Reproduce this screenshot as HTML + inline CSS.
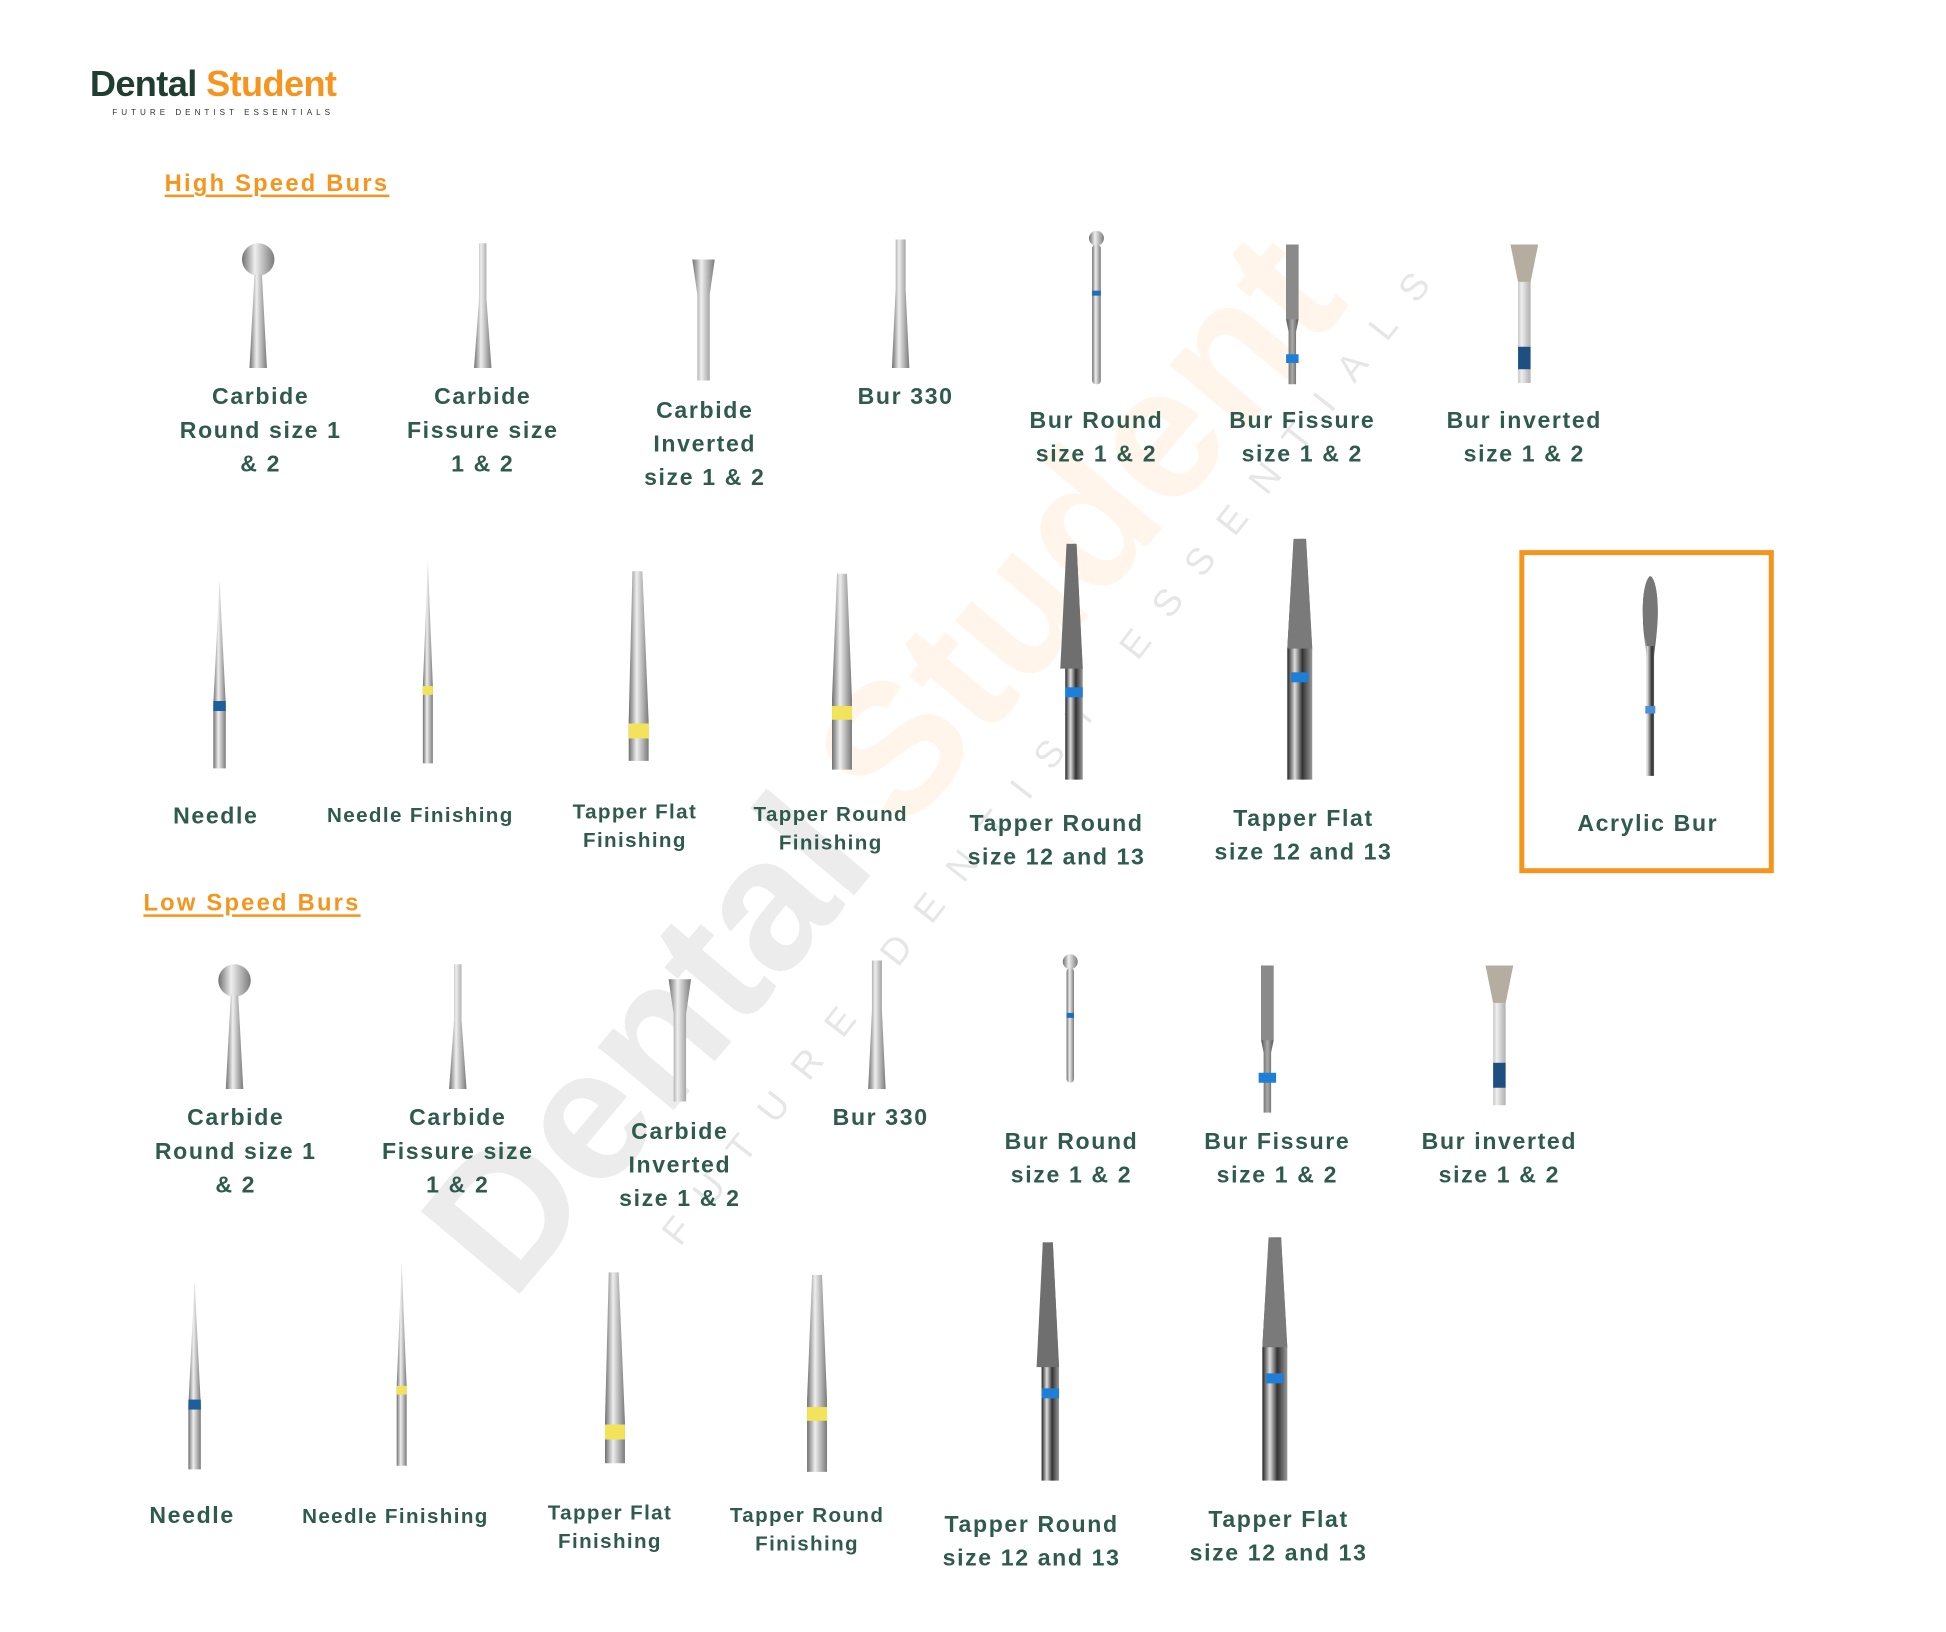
<!DOCTYPE html>
<html><head><meta charset="utf-8"><style>
html,body{margin:0;padding:0;background:#fff;width:1946px;height:1631px;overflow:hidden}
#c{position:absolute;left:0;top:0;width:1560px;height:1308px;transform:scale(1.2474);transform-origin:0 0;font-family:"Liberation Sans",sans-serif}
.l{position:absolute;width:300px;text-align:center;color:#2f5a4e;font-weight:bold;font-size:18.5px;line-height:27px;letter-spacing:1.3px;white-space:nowrap}
.s{font-size:16.5px;line-height:23px;letter-spacing:1.1px}
.h{position:absolute;color:#f7941d;font-weight:bold;font-size:19px;letter-spacing:1.8px;text-decoration:underline;text-decoration-thickness:2px;text-underline-offset:3px}
svg{position:absolute;left:0;top:0}
</style></head><body><div id="c">
<svg width="1560" height="1308" viewBox="0 0 1560 1308">
<defs>
<linearGradient id="m" x1="0" x2="1" y1="0" y2="0"><stop offset="0" stop-color="#6f6f6f"/><stop offset=".4" stop-color="#eeeeee"/><stop offset="1" stop-color="#7a7a7a"/></linearGradient>
<linearGradient id="k" x1="0" x2="1" y1="0" y2="0"><stop offset="0" stop-color="#222"/><stop offset=".3" stop-color="#ddd"/><stop offset=".6" stop-color="#333"/><stop offset="1" stop-color="#999"/></linearGradient>
<linearGradient id="d" x1="0" x2="1" y1="0" y2="0"><stop offset="0" stop-color="#555"/><stop offset=".5" stop-color="#aaa"/><stop offset="1" stop-color="#555"/></linearGradient>
</defs>
<g opacity="0.09" font-family="Liberation Sans,sans-serif" font-weight="bold" font-size="150" transform="translate(410,1045) rotate(-50)"><text x="0" y="0"><tspan fill="#333">Dental</tspan><tspan fill="#f7941d" dx="30">Student</tspan></text></g>
<g opacity="0.12" font-family="Liberation Sans,sans-serif" font-size="30" letter-spacing="22" transform="translate(545,1000) rotate(-52)"><text fill="#333">FUTURE DENTIST ESSENTIALS</text></g>

<!-- Row 1 -->
<g fill="url(#m)">
<circle cx="207" cy="208" r="13"/><path d="M204 220h6l4 75h-14z"/>
<path d="M384 195h6v45l4 55h-14l4-55z"/>
<path d="M555 208h18l-4 28v69h-10v-69z"/>
<path d="M718 192h8v40l3 63h-14l3-63z"/>
<circle cx="879" cy="191" r="6"/><rect x="875.5" y="196" width="7" height="112" rx="3"/>
<path d="M1031 196h10v60l-2 10v42h-6v-42l-2-10z" fill="url(#d)"/>
<path d="M1211 196h22l-6 30v81h-10v-81z"/>
</g>
<rect x="875.5" y="233" width="7" height="4" fill="#1e6fc0"/>
<rect x="1031" y="196" width="10" height="60" fill="#8a8a8a"/>
<rect x="1031" y="284" width="10" height="7" fill="#1e7fd8"/>
<path d="M1211 196h22l-6 30h-10z" fill="#b5ada0"/>
<rect x="1217" y="278" width="10" height="18" fill="#1d4f80"/>

<!-- Row 2 -->
<g fill="url(#m)">
<path d="M176 465l5 100v51h-10v-51z"/>
<path d="M343 450l4 100v62h-8v-62z"/>
<path d="M507 458h8l5 120v32h-16v-32z"/>
<path d="M671 460h8l4 100v57h-16v-57z"/>
<path d="M855 436h8l5 100v89h-14v-89z" fill="url(#k)"/>
<path d="M1037 432h10l5 88v105h-20v-105z" fill="url(#k)"/>
<path d="M1317 490c0-20 4-28 6-28s6 8 6 28c0 20-3 30-3 38v94h-6v-94c0-8-3-18-3-38z" fill="url(#k)"/>
</g>
<path d="M855 436h8l5 100h-18z" fill="#6f6f6f"/>
<path d="M1037 432h10l5 88h-20z" fill="#7a7a7a"/>
<path d="M1317 490c0-20 4-28 6-28s6 8 6 28c0 14-2 20-3 28h-6c-1-8-3-14-3-28z" fill="#777"/>
<rect x="171" y="562" width="10" height="8" fill="#1d5f9a"/>
<rect x="339" y="550" width="8" height="7" fill="#f2e35a"/>
<rect x="504" y="580" width="16" height="12" fill="#f2e35a"/>
<rect x="667" y="566" width="16" height="11" fill="#f2e35a"/>
<rect x="854" y="551" width="14" height="8" fill="#1e7fd8"/>
<rect x="1035" y="539" width="14" height="8" fill="#1e7fd8"/>
<rect x="1319" y="566" width="8" height="6" fill="#4a8fd8"/>
<rect x="1220" y="443" width="200" height="255" fill="none" stroke="#f7941d" stroke-width="4"/>

<!-- Row 3 -->
<g fill="url(#m)">
<circle cx="188" cy="786" r="13"/><path d="M185 798h6l4 75h-14z"/>
<path d="M364 773h6v45l4 55h-14l4-55z"/>
<path d="M536 785h18l-4 28v70h-10v-70z"/>
<path d="M699 770h8v40l3 63h-14l3-63z"/>
<circle cx="858" cy="771" r="6"/><rect x="855" y="776" width="6" height="92" rx="3"/>
<path d="M1011 774h10v60l-2 10v48h-6v-48l-2-10z" fill="url(#d)"/>
<path d="M1191 774h22l-6 30v82h-10v-82z"/>
</g>
<rect x="855" y="812" width="6" height="4" fill="#1e6fc0"/>
<rect x="1011" y="774" width="10" height="60" fill="#8a8a8a"/>
<rect x="1009" y="860" width="14" height="8" fill="#1e7fd8"/>
<path d="M1191 774h22l-6 30h-10z" fill="#b5ada0"/>
<rect x="1197" y="852" width="10" height="20" fill="#1d4f80"/>

<!-- Row 4 -->
<g fill="url(#m)">
<path d="M156 1027l5 100v51h-10v-51z"/>
<path d="M322 1012l4 100v63h-8v-63z"/>
<path d="M488 1020h8l5 120v33h-16v-33z"/>
<path d="M651 1022h8l4 100v58h-16v-58z"/>
<path d="M836 996h8l5 100v91h-14v-91z" fill="url(#k)"/>
<path d="M1017 992h10l5 88v107h-20v-107z" fill="url(#k)"/>
</g>
<path d="M836 996h8l5 100h-18z" fill="#6f6f6f"/>
<path d="M1017 992h10l5 88h-20z" fill="#7a7a7a"/>
<rect x="151" y="1122" width="10" height="8" fill="#1d5f9a"/>
<rect x="318" y="1111" width="8" height="7" fill="#f2e35a"/>
<rect x="485" y="1142" width="16" height="12" fill="#f2e35a"/>
<rect x="647" y="1128" width="16" height="11" fill="#f2e35a"/>
<rect x="835" y="1113" width="14" height="8" fill="#1e7fd8"/>
<rect x="1015" y="1101" width="14" height="8" fill="#1e7fd8"/>
</svg>

<div style="position:absolute;left:72px;top:52px;font-size:29px;font-weight:bold;letter-spacing:-0.5px;white-space:nowrap"><span style="color:#1f3d30">Dental</span> <span style="color:#f7941d">Student</span></div>
<div style="position:absolute;left:90px;top:87px;font-size:6.5px;letter-spacing:3.2px;color:#333;white-space:nowrap">FUTURE DENTIST ESSENTIALS</div>

<div class="h" style="left:132px;top:137px">High Speed Burs</div>
<div class="h" style="left:115px;top:714px">Low Speed Burs</div>

<div class="l" style="left:59px;top:304px">Carbide<br>Round size 1<br>&amp; 2</div>
<div class="l" style="left:237px;top:304px">Carbide<br>Fissure size<br>1 &amp; 2</div>
<div class="l" style="left:415px;top:315px">Carbide<br>Inverted<br>size 1 &amp; 2</div>
<div class="l" style="left:576px;top:304px">Bur 330</div>
<div class="l" style="left:729px;top:323px">Bur Round<br>size 1 &amp; 2</div>
<div class="l" style="left:894px;top:323px">Bur Fissure<br>size 1 &amp; 2</div>
<div class="l" style="left:1072px;top:323px">Bur inverted<br>size 1 &amp; 2</div>

<div class="l" style="left:23px;top:640px">Needle</div>
<div class="l s" style="left:187px;top:643px">Needle Finishing</div>
<div class="l s" style="left:359px;top:640px">Tapper Flat<br>Finishing</div>
<div class="l s" style="left:516px;top:642px">Tapper Round<br>Finishing</div>
<div class="l" style="left:697px;top:646px">Tapper Round<br>size 12 and 13</div>
<div class="l" style="left:895px;top:642px">Tapper Flat<br>size 12 and 13</div>
<div class="l" style="left:1171px;top:646px">Acrylic Bur</div>

<div class="l" style="left:39px;top:882px">Carbide<br>Round size 1<br>&amp; 2</div>
<div class="l" style="left:217px;top:882px">Carbide<br>Fissure size<br>1 &amp; 2</div>
<div class="l" style="left:395px;top:893px">Carbide<br>Inverted<br>size 1 &amp; 2</div>
<div class="l" style="left:556px;top:882px">Bur 330</div>
<div class="l" style="left:709px;top:901px">Bur Round<br>size 1 &amp; 2</div>
<div class="l" style="left:874px;top:901px">Bur Fissure<br>size 1 &amp; 2</div>
<div class="l" style="left:1052px;top:901px">Bur inverted<br>size 1 &amp; 2</div>

<div class="l" style="left:4px;top:1201px">Needle</div>
<div class="l s" style="left:167px;top:1205px">Needle Finishing</div>
<div class="l s" style="left:339px;top:1202px">Tapper Flat<br>Finishing</div>
<div class="l s" style="left:497px;top:1204px">Tapper Round<br>Finishing</div>
<div class="l" style="left:677px;top:1208px">Tapper Round<br>size 12 and 13</div>
<div class="l" style="left:875px;top:1204px">Tapper Flat<br>size 12 and 13</div>
</div></body></html>
